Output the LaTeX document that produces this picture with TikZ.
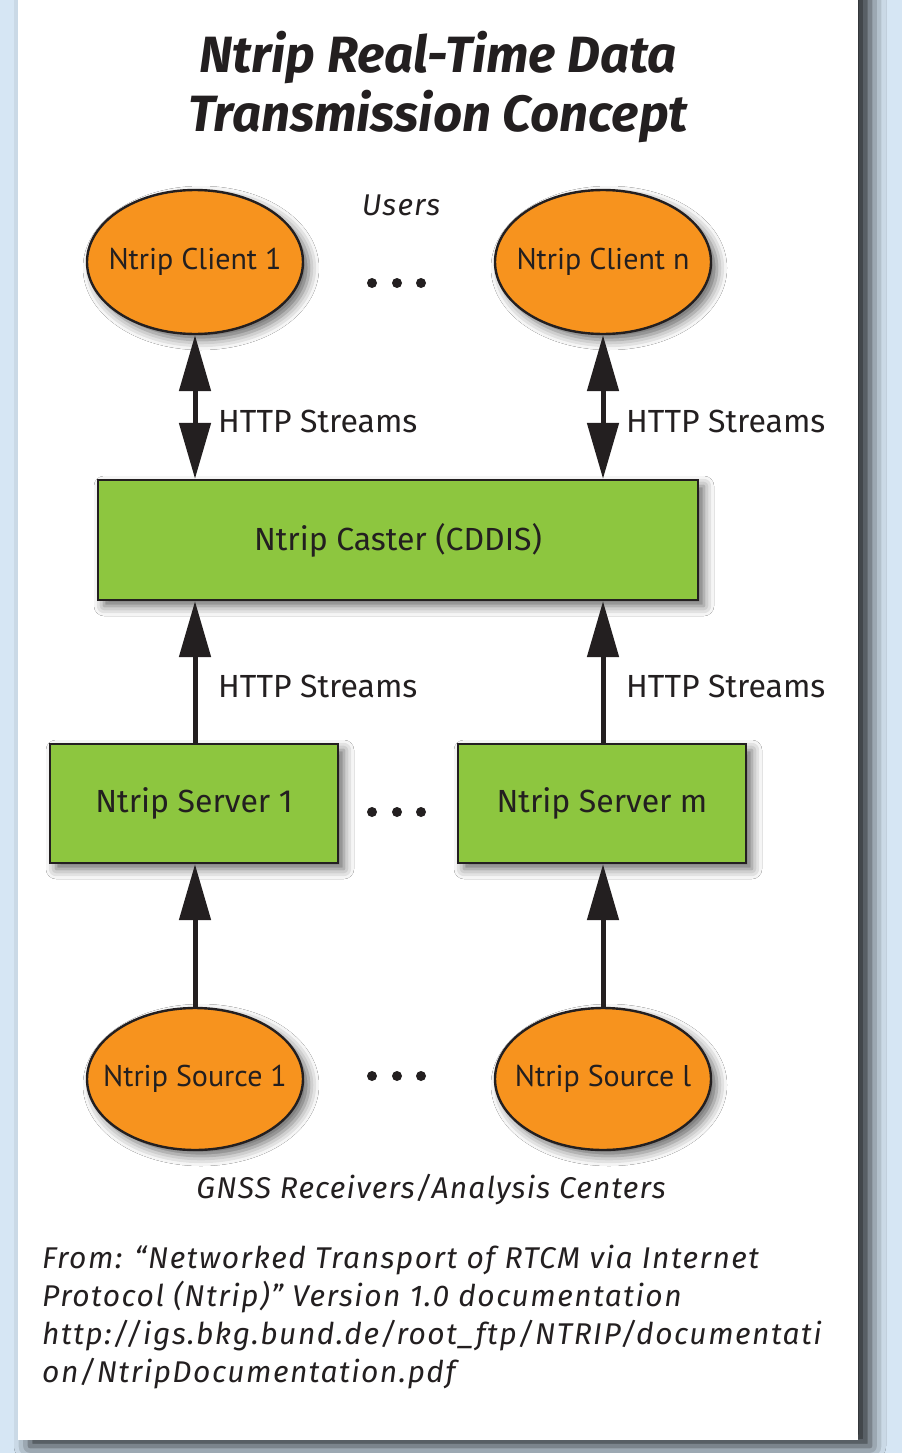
\documentclass[tikz,border=0pt]{standalone}
\usepackage{fontspec}
\setmainfont{Fira Sans}
\newfontfamily\ellfont{PT Sans}
\newfontfamily\itfont[LetterSpace=4.0]{Fira Sans Italic}
\newfontfamily\itfontw[LetterSpace=5.0]{Fira Sans Italic}
\usetikzlibrary{arrows.meta,shadows.blur,shapes.geometric,calc}
\definecolor{bgblue}{HTML}{D6E6F4}
\definecolor{ink}{HTML}{231F20}
\definecolor{orng}{HTML}{F7931E}
\definecolor{grn}{HTML}{8DC63F}
\tikzset{
  shad/.style={blur shadow={shadow xshift=6pt,shadow yshift=-6pt,shadow blur radius=10pt,shadow opacity=60}},
  ellnode/.style={ellipse,draw=ink,line width=2.4pt,fill=orng,minimum width=216pt,minimum height=144pt,inner sep=-40pt,
     font=\ellfont\fontsize{30}{34}\selectfont,text=ink,shad},
  boxnode/.style={rectangle,draw=ink,line width=2.4pt,fill=grn,inner sep=0pt,
     font=\fontsize{32}{38}\selectfont,text=ink,shad},
  lbl/.style={anchor=west,font=\fontsize{32}{38}\selectfont,text=ink,inner sep=0pt},
  conn/.style={draw=ink,line width=5pt,-{Triangle[width=31pt,length=56pt]}},
  dconn/.style={draw=ink,line width=5pt,{Triangle[width=31pt,length=56pt]}-{Triangle[width=31pt,length=56pt]}},
  dotc/.style={circle,fill=ink,minimum size=10pt,inner sep=0pt},
  ital/.style={font=\itfont\fontsize{30}{38}\selectfont,text=ink,inner sep=0pt},
}
\begin{document}
\begin{tikzpicture}[x=1pt,y=-1pt]
\useasboundingbox (0,0) rectangle (902,1453);
\fill[bgblue] (0,0) rectangle (902,1453);
\fill[white,blur shadow={shadow xshift=12pt,shadow yshift=-6pt,shadow blur radius=16pt,shadow opacity=85}] (18,-40) rectangle (858,1440);

\node[font=\fontsize{51}{59}\selectfont\bfseries\itshape,text=ink,inner sep=0pt,align=center] (title) at (438,87) {Ntrip Real-Time Data\\Transmission Concept};
\node[ital] (users) at (401,205) {Users};

\node[ellnode] (c1) at (195,262) {Ntrip Client 1};
\node[ellnode] (cn) at (603,262) {Ntrip Client n};
\node[dotc] (d1a) at (372,283) {};
\node[dotc] (d1b) at (397,283) {};
\node[dotc] (d1c) at (421,283) {};

\node[boxnode,minimum width=600pt,minimum height=120pt] (caster) at (398,540) {Ntrip Caster (CDDIS)};

\node[boxnode,minimum width=288pt,minimum height=119pt] (s1) at (194,803.5) {Ntrip Server 1};
\node[boxnode,minimum width=288pt,minimum height=119pt] (sm) at (602,803.5) {Ntrip Server m};
\node[dotc] (d2a) at (372,812) {};
\node[dotc] (d2b) at (397,812) {};
\node[dotc] (d2c) at (421,812) {};

\node[ellnode,minimum height=142pt] (o1) at (195,1079) {Ntrip Source 1};
\node[ellnode,minimum height=142pt] (ol) at (603,1079) {Ntrip Source l};
\node[dotc] (d3a) at (372,1076) {};
\node[dotc] (d3b) at (397,1076) {};
\node[dotc] (d3c) at (421,1076) {};

\node[ital] (gnss) at (431,1190) {GNSS Receivers/Analysis Centers};

\draw[dconn] (c1.south) -- (c1.south |- caster.north);
\draw[dconn] (cn.south) -- (cn.south |- caster.north);
\draw[conn] (s1.north -| c1.south) -- (c1.south |- caster.south);
\draw[conn] (sm.north -| cn.south) -- (cn.south |- caster.south);
\draw[conn] (o1.north) -- (o1.north |- s1.south);
\draw[conn] (ol.north) -- (ol.north |- sm.south);

\node[lbl] (h1) at (218,421) {HTTP Streams};
\node[lbl] (h2) at (626,421) {HTTP Streams};
\node[lbl] (h3) at (218,686) {HTTP Streams};
\node[lbl] (h4) at (626,686) {HTTP Streams};

\node[ital,font=\itfontw\fontsize{30}{38}\selectfont,anchor=north west,align=left] (src) at (42,1245) {From: “Networked Transport of RTCM via Internet\\Protocol (Ntrip)” Version 1.0 documentation\\http://igs.bkg.bund.de/root\_ftp/NTRIP/documentati\\on/NtripDocumentation.pdf};
\end{tikzpicture}
\end{document}
